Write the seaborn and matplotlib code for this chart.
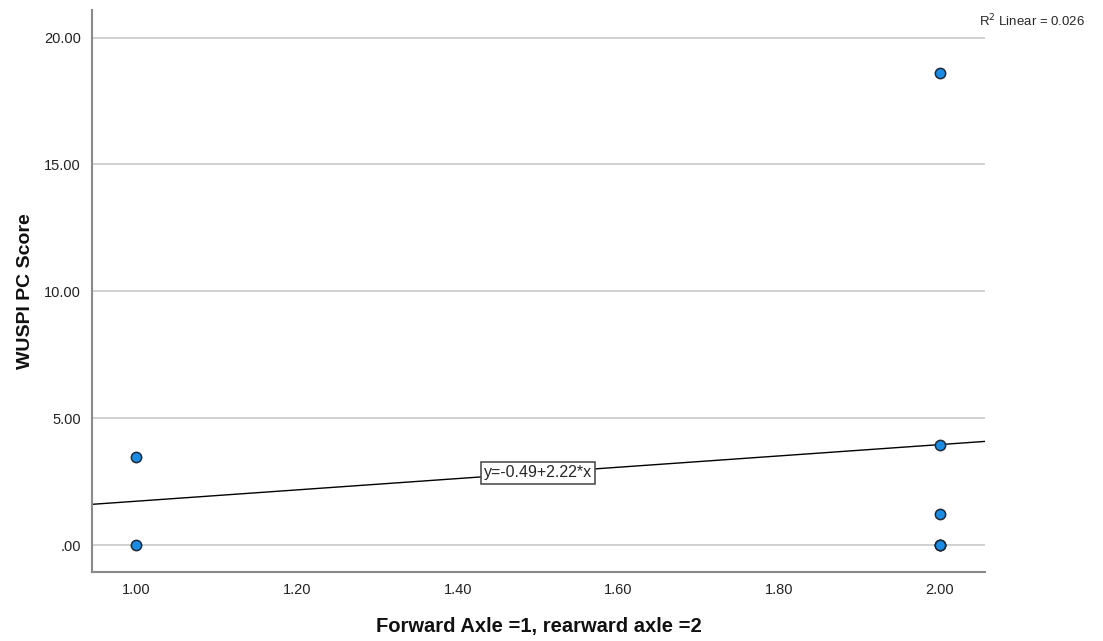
#!/usr/bin/env python3

import matplotlib
import numpy as np
import pandas as pd
import seaborn as sns

matplotlib.use("Agg")
import matplotlib.pyplot as plt
from matplotlib.ticker import FuncFormatter

# Data.
axle = [1, 1, 2, 2, 2, 2, 2, 2]
score = [3.46, 0.0, 18.6, 3.95, 1.22, 0.0, 0.0, 0.0]
x_ticks = [1.0, 1.2, 1.4, 1.6, 1.8, 2.0]
y_ticks = [0, 5, 10, 15, 20]
fit_label = "y=-0.49+2.22*x"
r2_label = "R$^2$ Linear = 0.026"

df = pd.DataFrame({"axle": axle, "score": score})

sns.set_style("white")
plt.rcParams["font.family"] = ["Liberation Sans", "DejaVu Sans"]

fig = plt.figure(figsize=(11.03, 6.41), dpi=100)
ax = fig.add_axes([0.0834, 0.1076, 0.8096, 0.8766])

ax.set_xlim(0.945, 2.056)
ax.set_ylim(-1.06, 21.08)

for t in y_ticks:
    ax.axhline(t, color="#c8c8c8", lw=1.2, zorder=0)

sns.regplot(
    data=df, x="axle", y="score", ax=ax, ci=None, truncate=False,
    scatter=False, line_kws={"color": "black", "lw": 1.0, "zorder": 2},
)
sns.scatterplot(
    data=df, x="axle", y="score", ax=ax, s=55, color="#1a8ce3",
    edgecolor="#1c2a3a", linewidth=1.1, zorder=3,
)

ax.set_xlim(0.945, 2.056)
ax.set_ylim(-1.06, 21.08)

# Fit equation box, centred on the line
xm = 1.5
ym = np.polyval(np.polyfit(axle, score, 1), xm)
ax.text(
    xm, ym, fit_label, ha="center", va="center", fontsize=11.5, zorder=4,
    bbox=dict(boxstyle="square,pad=0.2", fc="white", ec="#505050", lw=1.2),
)

ax.set_xticks(x_ticks)
ax.set_yticks(y_ticks)
ax.xaxis.set_major_formatter(FuncFormatter(lambda v, p: f"{v:.2f}"))
ax.yaxis.set_major_formatter(
    FuncFormatter(lambda v, p: ".00" if v == 0 else f"{v:.2f}")
)
ax.tick_params(axis="both", length=0, labelsize=10.5, colors="#222222", pad=8)

for side in ["top", "right"]:
    ax.spines[side].set_visible(False)
for side in ["left", "bottom"]:
    ax.spines[side].set_color("#8a8a8a")
    ax.spines[side].set_linewidth(1.5)

ax.set_xlabel("Forward Axle =1, rearward axle =2", fontsize=14.5,
              fontweight="bold", labelpad=14, color="#111111")
ax.set_ylabel("WUSPI PC Score", fontsize=14, fontweight="bold", labelpad=7,
              color="#111111")

fig.text(0.936, 0.968, r2_label, ha="center", va="center", fontsize=9.5)

plt.savefig("out.png", dpi=100)
plt.close()
